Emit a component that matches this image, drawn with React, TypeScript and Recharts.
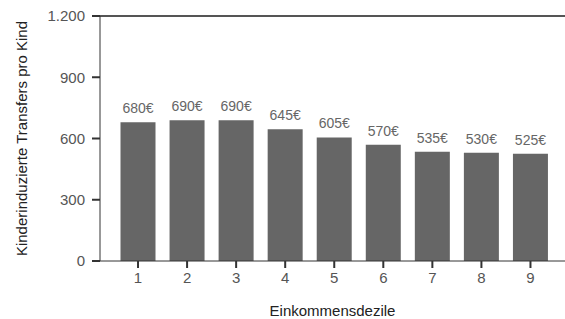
import React from 'react';
import { BarChart, Bar, XAxis, YAxis, LabelList, ReferenceLine } from 'recharts';

const deciles = ['1', '2', '3', '4', '5', '6', '7', '8', '9'];
const transfers = [680, 690, 690, 645, 605, 570, 535, 530, 525];
const yTicks = [0, 300, 600, 900, 1200];

const data = deciles.map((d, i) => ({ decile: d, value: transfers[i] }));

const fmt = (v: number) => v.toLocaleString('de-DE');
const font = '"Liberation Sans", Arial, sans-serif';

const App = () => {
    return (
        <div style={{ position: 'absolute', left: 0, top: 0, fontFamily: font }}>
            <BarChart width={565} height={319} data={data} margin={{ top: 16, right: 0, bottom: 0, left: 0 }}>
                <ReferenceLine y={1200} stroke="#555" strokeWidth={2} ifOverflow="extendDomain" />
                <XAxis
                    dataKey="decile"
                    height={58}
                    padding={{ left: 13.5, right: 10 }}
                    stroke="#333"
                    tickSize={7}
                    tickMargin={4}
                    tick={{ fontSize: 15, fill: '#555', fontFamily: font }}
                    tickLine={{ stroke: '#333', strokeWidth: 2 }}
                    label={{ value: 'Einkommensdezile', position: 'insideBottom', offset: 3, fontSize: 15, fill: '#222', fontFamily: font }}
                />
                <YAxis
                    domain={[0, 1200]}
                    ticks={yTicks}
                    width={100}
                    stroke="#333"
                    tickSize={8}
                    tickMargin={7}
                    tickFormatter={fmt}
                    tick={{ fontSize: 15, fill: '#555', fontFamily: font }}
                    tickLine={{ stroke: '#333', strokeWidth: 2 }}
                    label={{ value: 'Kinderinduzierte Transfers pro Kind', angle: -90, position: 'insideLeft', offset: 22, fontSize: 15, fill: '#222', fontFamily: font, style: { textAnchor: 'middle' } }}
                />
                <Bar dataKey="value" fill="#666666" barSize={35} isAnimationActive={false}>
                    <LabelList dataKey="value" position="top" offset={9} formatter={(v: any) => `${v}€`} style={{ fontSize: 14, fill: '#666', fontFamily: font }} />
                </Bar>
            </BarChart>
        </div>
    );
};

export default App;
